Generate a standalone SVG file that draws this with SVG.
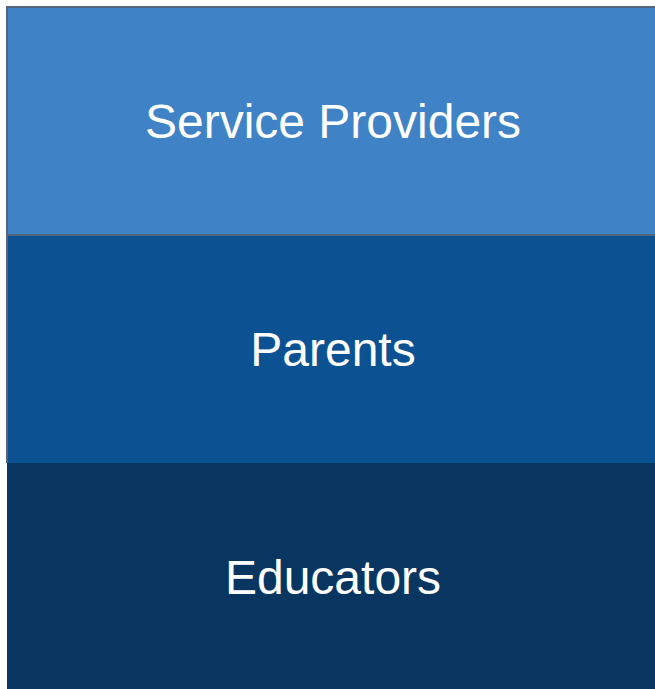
<svg xmlns="http://www.w3.org/2000/svg" width="655" height="689" viewBox="0 0 655 689">
<style>
.lbl{font-family:"Liberation Sans",Arial,sans-serif;font-size:48px;fill:#ffffff;text-anchor:middle}
.edge{stroke:#56657a;stroke-width:2}
</style>
<rect width="655" height="689" fill="#ffffff"/>
<g id="educators">
<rect x="7" y="463" width="660" height="240" fill="#083661"/>
<text class="lbl" x="333" y="594">Educators</text>
</g>
<g id="parents">
<rect x="7" y="235" width="660" height="228" fill="#0c5292"/>
<path class="edge" d="M7,235 V463" fill="none"/>
<text class="lbl" x="333" y="366">Parents</text>
</g>
<g id="service-providers">
<rect class="edge" x="7" y="7" width="660" height="228" fill="#3f83c6"/>
<text class="lbl" x="333" y="138">Service Providers</text>
</g>
<g id="connectors"/>
</svg>
